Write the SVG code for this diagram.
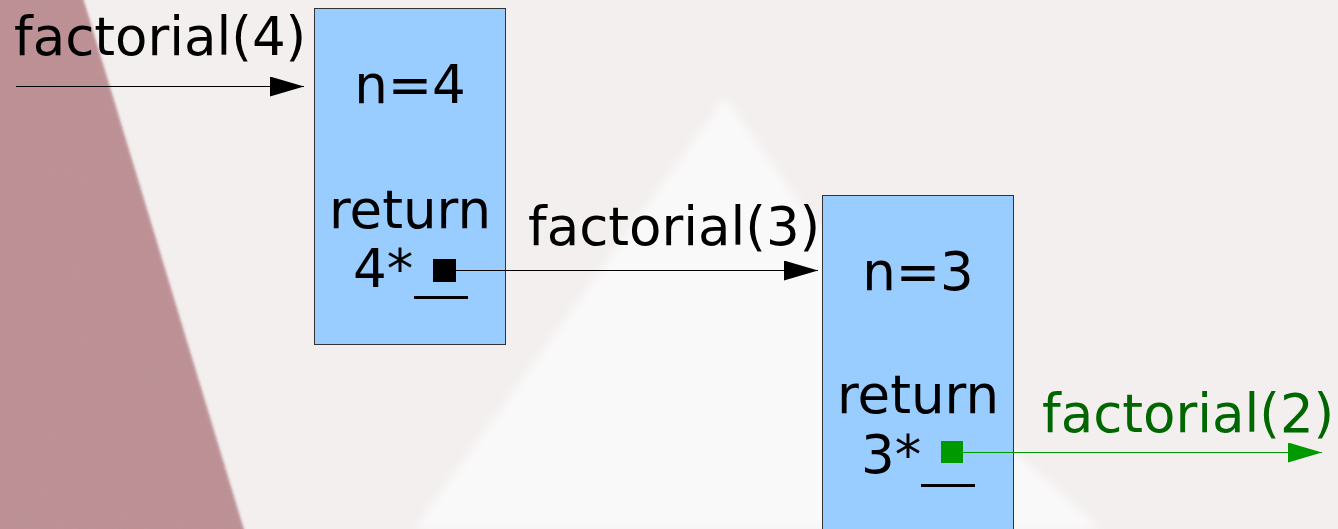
<svg xmlns="http://www.w3.org/2000/svg" width="1338" height="529" viewBox="0 0 1338 529">
<style>
.lbl{font-family:"DejaVu Sans",sans-serif;font-size:53px;fill:#000}
.mid{text-anchor:middle}
.box{fill:#99ccff;stroke:#333;stroke-width:1}
.g{fill:#006600}
</style>
<defs>
<marker id="ab" viewBox="0 0 34 20" refX="34" refY="10" markerWidth="34" markerHeight="20" markerUnits="userSpaceOnUse" orient="auto"><path d="M0,0 L34,10 L0,20 z" fill="#000"/></marker>
<marker id="ag" viewBox="0 0 34 20" refX="34" refY="10" markerWidth="34" markerHeight="20" markerUnits="userSpaceOnUse" orient="auto"><path d="M0,0 L34,10 L0,20 z" fill="#009900"/></marker>
<filter id="noise" x="0" y="0" width="1" height="1"><feTurbulence type="fractalNoise" baseFrequency="0.7" numOctaves="2" seed="3"/><feColorMatrix type="matrix" values="0 0 0 0 0.5  0 0 0 0 0.3  0 0 0 0 0.32  0 0 0 2.2 -0.8"/><feComposite in2="SourceGraphic" operator="in"/></filter>
<filter id="blur"><feGaussianBlur stdDeviation="1.5"/></filter>
<filter id="blur2"><feGaussianBlur stdDeviation="4"/></filter>
</defs>
<g id="background">
<rect width="1338" height="529" fill="#f3efef"/>
<polygon points="725,98 797,200 1015,453 1100,529 415,529" fill="#faf9f9" filter="url(#blur2)"/>
<polygon points="-5,-5 82,-5 247,540 -5,540" fill="#bd9094" filter="url(#blur)"/>
<polygon points="-5,-5 82,-5 247,540 -5,540" fill="#000" filter="url(#noise)" opacity="0.6"/>
</g>
<g id="label-f4"><text class="lbl" x="14" y="55">factorial(4)</text></g>
<g id="label-f3"><text class="lbl" x="528" y="245">factorial(3)</text></g>
<g id="label-f2"><text class="lbl g" x="1042" y="432">factorial(2)</text></g>
<g id="frame-4">
<rect class="box" x="314.5" y="8.5" width="191" height="336"/>
<text class="lbl mid" x="410" y="103">n=4</text>
<text class="lbl mid" x="410" y="228">return</text>
<text class="lbl" x="353" y="287">4*</text>
<rect x="433" y="259" width="23" height="23" fill="#000"/>
<rect x="414" y="296" width="54" height="3" fill="#000"/>
</g>
<g id="frame-3">
<rect class="box" x="822.5" y="195.5" width="191" height="340"/>
<text class="lbl mid" x="918" y="290">n=3</text>
<text class="lbl mid" x="918" y="413">return</text>
<text class="lbl" x="861" y="473">3*</text>
<rect x="941" y="441" width="22" height="22" fill="#009900"/>
<rect x="921" y="484" width="54" height="3" fill="#000"/>
</g>
<g id="connectors">
<line x1="16" y1="86.5" x2="304" y2="86.5" stroke="#000" stroke-width="1" marker-end="url(#ab)"/>
<line x1="456" y1="270.5" x2="818" y2="270.5" stroke="#000" stroke-width="1" marker-end="url(#ab)"/>
<line x1="963" y1="452.5" x2="1322" y2="452.5" stroke="#009900" stroke-width="1.2" marker-end="url(#ag)"/>
</g>
</svg>
